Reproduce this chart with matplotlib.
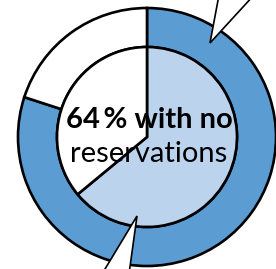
import matplotlib.pyplot as plt
from matplotlib.patches import Polygon

# donut: outer ring and inner pie (percent)
outer_vals = [80, 20]
inner_vals = [64, 36]
dark_blue = "#5B9DD3"
light_blue = "#BCD3EE"
label_bold = "64\u2009% with no"
label_reg = "reservations"

# callout pointers in pixel coords (x, y from top)
callout_top = [(210, 43), (219, -5), (254, -5)]
callout_bottom = [(137, 216), (102, 274), (129, 274)]

W, H = 276, 269
fig = plt.figure(figsize=(W / 100, H / 100), dpi=100)
ax = fig.add_axes([0, 0, 1, 1])

cx, cy = 147, H - 137
r_out, r_in = 129, 90
lw = 1.9

ax.pie(outer_vals, colors=[dark_blue, "white"], startangle=90, counterclock=False,
       radius=r_out, center=(cx, cy), frame=True,
       wedgeprops=dict(width=r_out - r_in, edgecolor="black", linewidth=lw))
ax.pie(inner_vals, colors=[light_blue, "white"], startangle=90, counterclock=False,
       radius=r_in, center=(cx, cy), frame=True,
       wedgeprops=dict(edgecolor="black", linewidth=lw))
ax.set_xlim(0, W)
ax.set_ylim(0, H)
ax.set_aspect("equal")
ax.axis("off")

for pts in (callout_top, callout_bottom):
    poly = Polygon([(x, H - y) for x, y in pts], closed=True, facecolor="white",
                   edgecolor="black", linewidth=1.2, zorder=5)
    ax.add_patch(poly)

ax.text(149, H - 120, label_bold, ha="center", va="center", fontsize=21,
        fontweight="bold", family=["Lato", "DejaVu Sans"], zorder=6)
ax.text(149, H - 154, label_reg, ha="center", va="center", fontsize=21,
        family=["Lato", "DejaVu Sans"], zorder=6)

fig.savefig("out.png", dpi=100)
